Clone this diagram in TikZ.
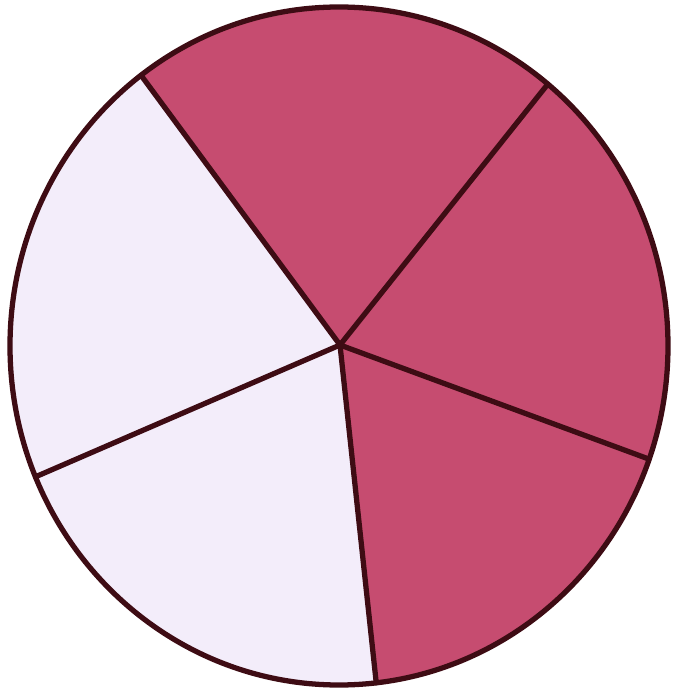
\documentclass[tikz,border=0pt]{standalone}
\usetikzlibrary{calc}
\begin{document}
\begin{tikzpicture}[x=0.02cm,y=0.02cm,
  shaded/.style={fill=pieShade},
  light/.style={fill=pieLight},
  spoke/.style={draw=pieLine,line width=3pt,line cap=round},
  rim/.style={draw=pieLine,line width=3pt}]
\definecolor{pieShade}{RGB}{198,76,112}
\definecolor{pieLight}{RGB}{243,237,250}
\definecolor{pieLine}{RGB}{62,12,20}
\useasboundingbox (0,0) rectangle (680,691);
\coordinate (C) at (339,345);
\coordinate (H) at (340,346);
\coordinate (P1) at ([shift={(C)}]127:329 and 339);
\coordinate (P2) at ([shift={(C)}]50.6:329 and 339);
\coordinate (P3) at ([shift={(C)}]-19.5:329 and 339);
\coordinate (P4) at ([shift={(C)}]-83.5:329 and 339);
\coordinate (P5) at ([shift={(C)}]-157.3:329 and 339);
\fill[shaded] (H) -- (P1) arc[start angle=127, end angle=50.6, x radius=329, y radius=339] -- cycle;
\fill[shaded] (H) -- (P2) arc[start angle=50.6, end angle=-19.5, x radius=329, y radius=339] -- cycle;
\fill[shaded] (H) -- (P3) arc[start angle=-19.5, end angle=-83.5, x radius=329, y radius=339] -- cycle;
\fill[light] (H) -- (P4) arc[start angle=-83.5, end angle=-157.3, x radius=329, y radius=339] -- cycle;
\fill[light] (H) -- (P5) arc[start angle=202.7, end angle=127, x radius=329, y radius=339] -- cycle;
\draw[spoke] (H) -- (P1);
\draw[spoke] (H) -- (P2);
\draw[spoke] (H) -- (P3);
\draw[spoke] (H) -- (P4);
\draw[spoke] (H) -- (P5);
\draw[rim] (C) ellipse[x radius=329, y radius=339];
\end{tikzpicture}
\end{document}
